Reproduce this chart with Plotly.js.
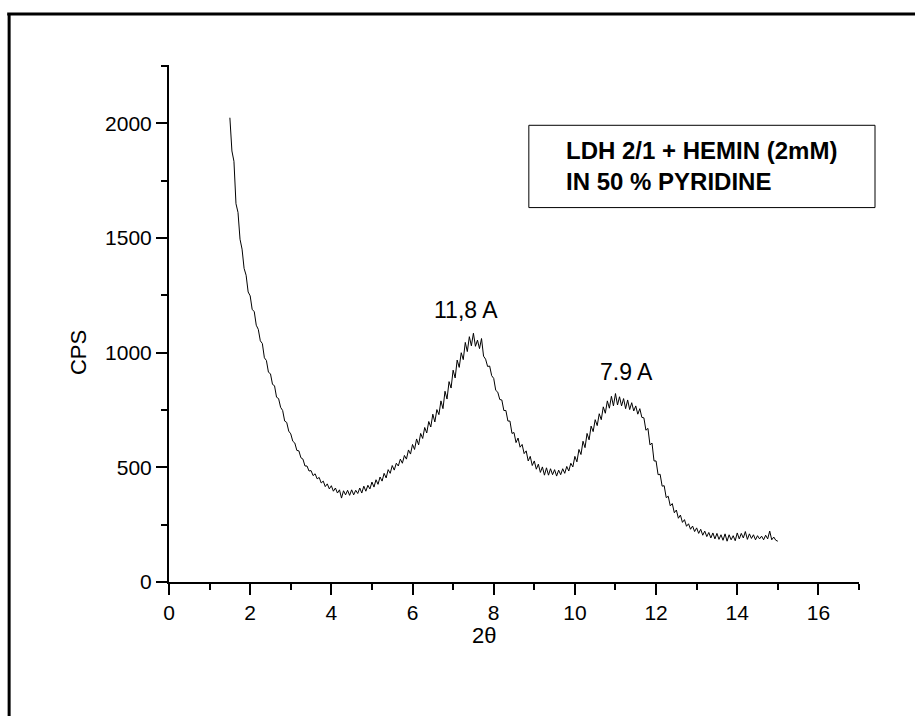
<!DOCTYPE html>
<html>
<head>
<meta charset="utf-8">
<script src="https://cdn.plot.ly/plotly-3.0.1.min.js"></script>
<style>html,body{margin:0;padding:0;background:#fff;}#chart{width:915px;height:716px;}</style>
</head>
<body>
<div id="chart"></div>
<script>
// 2-theta scan: start angle and step (degrees)
var twoThetaStart = 1.5;
var twoThetaStep = 0.05;
// counts per second (1.50 .. 15.00 in 0.05 steps)
var cps = [
  2025, 1880, 1835, 1650, 1612, 1495, 1452, 1368, 1338, 1265,
  1248, 1188, 1180, 1120, 1102, 1052, 1040, 978, 966, 915,
  908, 862, 856, 806, 800, 762, 748, 702, 696, 658,
  646, 614, 606, 574, 572, 542, 536, 506, 506, 484,
  486, 464, 472, 450, 456, 432, 440, 416, 428, 406,
  420, 396, 410, 388, 402, 366, 398, 380, 400, 378,
  402, 380, 400, 386, 410, 388, 418, 396, 422, 406,
  436, 414, 446, 426, 458, 440, 474, 454, 490, 474,
  508, 488, 518, 506, 536, 518, 552, 536, 576, 558,
  600, 578, 624, 598, 648, 626, 674, 650, 700, 676,
  732, 698, 752, 730, 790, 756, 832, 798, 874, 846,
  924, 890, 968, 936, 1000, 970, 1045, 1005, 1070, 1030,
  1085, 1028, 1055, 1018, 1062, 985, 972, 940, 942, 900,
  888, 836, 828, 796, 794, 748, 748, 702, 702, 648,
  652, 608, 628, 588, 600, 560, 572, 528, 548, 508,
  528, 492, 514, 478, 502, 466, 498, 466, 494, 468,
  490, 462, 488, 468, 494, 474, 504, 484, 518, 502,
  548, 524, 578, 556, 614, 586, 648, 620, 680, 656,
  708, 682, 734, 708, 764, 736, 790, 758, 810, 768,
  822, 772, 808, 768, 800, 756, 794, 752, 782, 746,
  768, 732, 756, 718, 716, 662, 670, 598, 606, 528,
  528, 468, 470, 418, 420, 368, 374, 332, 342, 302,
  314, 278, 292, 260, 272, 243, 254, 230, 244, 220,
  236, 212, 230, 204, 222, 198, 216, 192, 214, 188,
  212, 186, 206, 182, 210, 178, 206, 184, 202, 180,
  214, 188, 212, 192, 220, 186, 210, 190, 206, 184,
  202, 188, 200, 184, 204, 188, 222, 184, 196, 182,
  178
];
var xTickVals = [0, 2, 4, 6, 8, 10, 12, 14, 16];
var yTickVals = [0, 500, 1000, 1500, 2000];
var peakLabels = ["11,8 A", "7.9 A"];
var peakLabelX = [7.32, 11.26];
var peakLabelY = [1185, 915];
var boxText = "LDH 2/1 + HEMIN (2mM)<br>IN 50 % PYRIDINE";
var xTitle = "2θ";
var yTitle = "CPS";

var trace = {
  type: "scatter", mode: "lines",
  x0: twoThetaStart, dx: twoThetaStep, y: cps,
  line: {color: "#000", width: 1}, hoverinfo: "skip"
};

var fam = "Liberation Sans, Arial, sans-serif";
var annotations = peakLabels.map(function (t, i) {
  return {text: t, x: peakLabelX[i], y: peakLabelY[i], xref: "x", yref: "y",
          showarrow: false, xanchor: "center", yanchor: "middle",
          font: {family: fam, size: 23, color: "#000"}};
});
annotations.push({text: "<b>" + boxText.replace("<br>", "</b><br><b>") + "</b>",
  x: 0.5723, y: 0.804, xref: "paper", yref: "paper", showarrow: false,
  xanchor: "left", yanchor: "middle", align: "left",
  font: {family: fam, size: 24, color: "#000"}});
// axis titles placed as in the reference (offset from plot centre)
annotations.push({text: xTitle, x: 0.456, y: -0.103, xref: "paper", yref: "paper",
  showarrow: false, xanchor: "center", yanchor: "middle",
  font: {family: fam, size: 22, color: "#000"}});
annotations.push({text: yTitle, x: -0.131, y: 0.444, xref: "paper", yref: "paper",
  showarrow: false, xanchor: "center", yanchor: "middle", textangle: -90,
  font: {family: fam, size: 22, color: "#000"}});

var layout = {
  width: 915, height: 716,
  margin: {l: 169, r: 56, t: 65, b: 134},
  paper_bgcolor: "#fff", plot_bgcolor: "#fff",
  showlegend: false,
  font: {family: fam, color: "#000"},
  xaxis: {
    range: [0, 17], tickvals: xTickVals, ticks: "outside", ticklen: 11, tickwidth: 2,
    tickcolor: "#000", showline: true, linecolor: "#000", linewidth: 2,
    showgrid: false, zeroline: false, tickfont: {size: 21, color: "#000"},
    minor: {dtick: 1, tick0: 1, ticks: "outside", ticklen: 6, tickwidth: 2, tickcolor: "#000", showgrid: false},
    automargin: false
  },
  yaxis: {
    range: [0, 2255], tickvals: yTickVals, ticks: "outside", ticklen: 11, tickwidth: 2,
    tickcolor: "#000", showline: true, linecolor: "#000", linewidth: 2,
    showgrid: false, zeroline: false, tickfont: {size: 21, color: "#000"},
    minor: {dtick: 250, tick0: 250, ticks: "outside", ticklen: 6, tickwidth: 2, tickcolor: "#000", showgrid: false},
    automargin: false
  },
  shapes: [
    {type: "rect", xref: "paper", yref: "paper", x0: 0.5215, x1: 1.0232, y0: 0.7242, y1: 0.8834,
     line: {color: "#000", width: 1}, fillcolor: "rgba(0,0,0,0)"},
    {type: "line", xref: "paper", yref: "paper", x0: -0.2317, x1: -0.2317, y0: 1.0986, y1: -0.3,
     line: {color: "#000", width: 3}},
    {type: "line", xref: "paper", yref: "paper", x0: -0.2345, x1: 1.12, y0: 1.0986, y1: 1.0986,
     line: {color: "#000", width: 3}}
  ],
  annotations: annotations
};

Plotly.newPlot("chart", [trace], layout, {staticPlot: true, displayModeBar: false});
</script>
</body>
</html>
